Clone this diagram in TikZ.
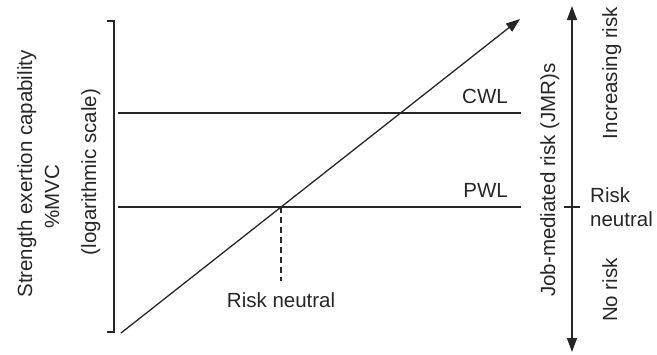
\documentclass[tikz,border=0pt]{standalone}
\usepackage{fontspec}
\setmainfont{Liberation Sans}
\usetikzlibrary{arrows.meta,calc}

\begin{document}
\begin{tikzpicture}[x=1pt,y=-1pt]
\tikzset{axis/.style = {line width=1.3pt, draw=black!85}}
\tikzset{edge/.style = {axis,-{Triangle[length=14pt,width=10pt]}}}
\tikzset{both/.style = {axis,{Triangle[length=14pt,width=10pt]}-{Triangle[length=14pt,width=10pt]}}}
\tikzset{lbl/.style = {font=\fontsize{20.5}{24}\selectfont, inner sep=0pt, text=black!85}}
\useasboundingbox (0,0) rectangle (657,354);

% bracket on the left
\coordinate (bt) at (114,21);
\coordinate (bb) at (114,332);
\draw[axis] ($(bt)+(-7,0)$) -- (bt) -- (bb) -- ($(bb)+(-7,0)$);

% limit lines
\foreach \y/\name in {113/CWL, 207/PWL}{
\coordinate (\name w) at (118,\y);
\coordinate (\name e) at (521,\y);
\draw[axis] (\name w) -- (\name e);
\node[lbl, anchor=base east] (\name) at (508,\y-10) {\name};
}

% job risk line
\coordinate (start) at (121,333);
\coordinate (tip) at (520,19);
\draw[edge] (start) -- (tip);
\coordinate (rn) at (intersection of start--tip and PWLw--PWLe);
\coordinate (rnb) at ($(rn)+(0,74)$);
\draw[axis, dash pattern=on 6pt off 4pt] (rn) -- (rnb);
\node[lbl, anchor=base] (rnlabel) at ($(rnb)+(0,26)$) {Risk neutral};

% risk axis
\coordinate (rtop) at (572,6);
\coordinate (rbot) at (572,352);
\draw[both] (rtop) -- (rbot);
\coordinate (rtick) at (572,207);
\draw[axis] ($(rtick)+(-8,0)$) -- ($(rtick)+(8,0)$);

% labels
\node[lbl, rotate=90, anchor=base] (strength) at (32,174) {Strength exertion capability};
\node[lbl, rotate=90, anchor=base] (mvc) at (59,197) {\%MVC};
\node[lbl, rotate=90, anchor=base] (logscale) at (96,172) {(logarithmic scale)};
\node[lbl, rotate=90, anchor=base] (jmr) at (555,180) {Job-mediated risk (JMR)s};
\node[lbl, rotate=90, anchor=base] (incr) at (617,73) {Increasing risk};
\node[lbl, rotate=90, anchor=base] (norisk) at (617,290) {No risk};
\node[lbl, anchor=west, align=left] (neutral) at (590,207) {Risk\\neutral};
\end{tikzpicture}
\end{document}
